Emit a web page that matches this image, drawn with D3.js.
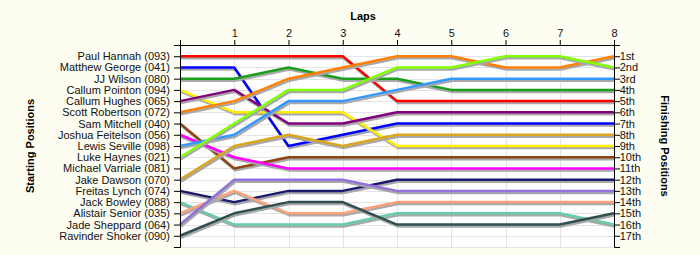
<!DOCTYPE html>
<html>
<head>
<meta charset="utf-8">
<script src="https://cdn.jsdelivr.net/npm/d3@7"></script>
<style>
  body { margin: 0; background: #fdfdf1; }
  svg { display: block; font-family: "Liberation Sans", Arial, sans-serif; }
  .tick text { font-size: 11px; fill: #111; }
  .title { font-size: 11px; font-weight: bold; fill: #000; }
</style>
</head>
<body>
<svg width="700" height="255"></svg>
<script>
// starting grid (lap 0 order)
var drivers = ["Paul Hannah (093)", "Matthew George (041)", "JJ Wilson (080)", "Callum Pointon (094)",
  "Callum Hughes (065)", "Scott Robertson (072)", "Sam Mitchell (040)", "Joshua Feitelson (056)",
  "Lewis Seville (098)", "Luke Haynes (021)", "Michael Varriale (081)", "Jake Dawson (070)",
  "Freitas Lynch (074)", "Jack Bowley (088)", "Alistair Senior (035)", "Jade Sheppard (064)",
  "Ravinder Shoker (090)"]
var laps = [0, 1, 2, 3, 4, 5, 6, 7, 8]
var finishLabels = ["1st", "2nd", "3rd", "4th", "5th", "6th", "7th", "8th", "9th", "10th",
  "11th", "12th", "13th", "14th", "15th", "16th", "17th"]

// race position of each driver at laps 0..8 (null = no laps)
var positions = [
  [1, 1, 1, 1, 5, 5, 5, 5, 5],
  [2, 2, 9, 8, 7, 7, 7, 7, 7],
  [3, 3, 2, 3, 3, 4, 4, 4, 4],
  [4, 6, 6, 6, 9, 9, 9, 9, 9],
  [5, 4, 7, 7, 6, 6, 6, 6, 6],
  [6, 5, 3, 2, 1, 1, 2, 2, 1],
  [7, 11, 10, 10, 10, 10, 10, 10, 10],
  [8, 10, 11, 11, 11, 11, 11, 11, 11],
  [9, 8, 5, 5, 4, 3, 3, 3, 3],
  [10, 7, 4, 4, 2, 2, 1, 1, 2],
  null,
  [12, 9, 8, 9, 8, 8, 8, 8, 8],
  [13, 14, 13, 13, 12, 12, 12, 12, 12],
  [14, 16, 16, 16, 15, 15, 15, 15, 16],
  [15, 13, 15, 15, 14, 14, 14, 14, 14],
  [16, 12, 12, 12, 13, 13, 13, 13, 13],
  [17, 15, 14, 14, 16, 16, 16, 16, 15]
]

var colors = ["#ff0000", "#0000ff", "#1a9f1a", "#ffee00", "#800080", "#ff8000", "#8b4513",
  "#ff00ff", "#3399ff", "#80ff00", "#999999", "#daa520", "#191970", "#66cdaa", "#ffa07a",
  "#9370db", "#2f4f4f"]

var pLeft = 180, pRight = 614, pTop = 45, pBottom = 247

var svg = d3.select("svg")

var x = d3.scaleLinear().domain([0, 8]).range([pLeft, pRight])
var y = d3.scaleLinear().domain([0, 18]).range([pTop, pBottom])
var rows = d3.range(1, 18)

svg.append("rect")
    .attr("x", pLeft).attr("y", pTop)
    .attr("width", pRight - pLeft).attr("height", pBottom - pTop)
    .attr("fill", "#fff")

// grid
var grid = svg.append("g").attr("stroke", "#e4e4e4").attr("stroke-width", 1)
grid.selectAll(".v").data(laps.slice(1)).enter().append("line")
    .attr("x1", d => Math.round(x(d)) + 0.5).attr("x2", d => Math.round(x(d)) + 0.5)
    .attr("y1", pTop).attr("y2", pBottom)
grid.selectAll(".h").data(rows.concat([18])).enter().append("line")
    .attr("x1", pLeft).attr("x2", pRight)
    .attr("y1", d => Math.round(y(d)) + 0.5).attr("y2", d => Math.round(y(d)) + 0.5)

var line = d3.line()
    .x((d, i) => x(laps[i]))
    .y(d => y(d))

var series = positions.map((p, i) => ({ p: p, c: colors[i] })).filter(d => d.p)

var lines = svg.append("g")
series.forEach(function(s) {
    lines.append("path")
        .attr("d", line(s.p))
        .attr("transform", "translate(1,2)")
        .attr("fill", "none")
        .attr("stroke", "#a8a8a8")
        .attr("stroke-width", 2.5)
    lines.append("path")
        .attr("d", line(s.p))
        .attr("fill", "none")
        .attr("stroke", s.c)
        .attr("stroke-width", 2.5)
        .attr("stroke-linejoin", "round")
})

// axes
var yLeft = d3.axisLeft(y)
    .tickValues(rows)
    .tickFormat(d => drivers[d - 1])
    .tickSize(6)
var yRight = d3.axisRight(y)
    .tickValues(rows)
    .tickFormat(d => finishLabels[d - 1])
    .tickSize(6)
var xTop = d3.axisTop(x)
    .tickValues(laps)
    .tickFormat(d => d == 0 ? "" : d)
    .tickSize(5)
    .tickSizeOuter(0)

svg.append("g")
    .attr("transform", "translate(" + pLeft + ",0)")
    .call(yLeft)
    .selectAll("text").attr("dx", "-0.1em")
svg.append("g")
    .attr("transform", "translate(" + pRight + ",0)")
    .call(yRight)
    .selectAll("text").attr("dx", "-0.3em")
svg.append("g")
    .attr("transform", "translate(0," + pTop + ")")
    .call(xTop)

svg.selectAll(".domain, .tick line").attr("stroke", "#000")

// titles
svg.append("text").attr("class", "title")
    .attr("x", 363).attr("y", 20)
    .attr("text-anchor", "middle")
    .text("Laps")
svg.append("text").attr("class", "title")
    .attr("transform", "translate(34,146) rotate(-90)")
    .attr("text-anchor", "middle")
    .text("Starting Positions")
svg.append("text").attr("class", "title")
    .attr("transform", "translate(661,146) rotate(90)")
    .attr("text-anchor", "middle")
    .text("Finishing Positions")
</script>
</body>
</html>
